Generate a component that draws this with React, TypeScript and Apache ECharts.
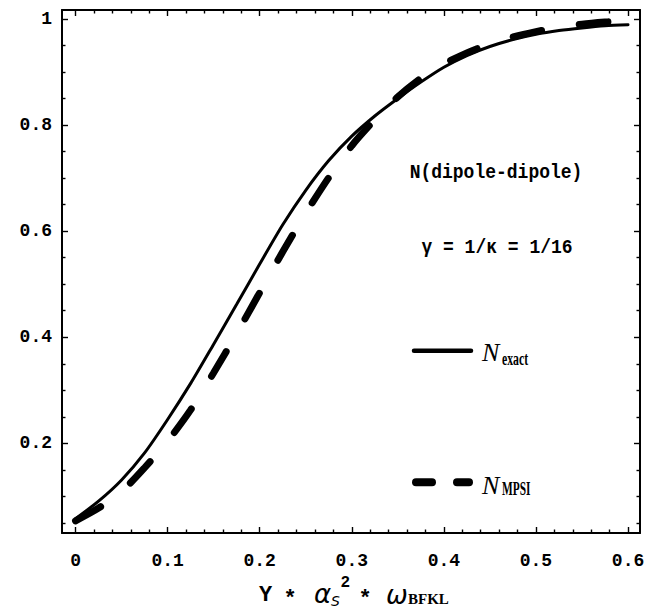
import React, { useEffect, useRef } from "react";
import * as echarts from "echarts";

// ---- data ----
const xValues = [
  0, 0.025, 0.05, 0.075, 0.1, 0.125, 0.15, 0.175, 0.2, 0.225, 0.25, 0.275, 0.3,
  0.325, 0.35, 0.375, 0.4, 0.425, 0.45, 0.475, 0.5, 0.525, 0.55, 0.575, 0.6,
];
const exactValues = [
  0.058, 0.091, 0.131, 0.182, 0.245, 0.313, 0.387, 0.462, 0.538, 0.612, 0.677,
  0.733, 0.779, 0.817, 0.85, 0.881, 0.909, 0.931, 0.948, 0.961, 0.971, 0.978,
  0.983, 0.987, 0.989,
];
const mpsiValues = [
  0.054, 0.078, 0.109, 0.154, 0.204, 0.263, 0.333, 0.407, 0.484, 0.561, 0.634,
  0.701, 0.761, 0.81, 0.853, 0.888, 0.915, 0.936, 0.953, 0.966, 0.976, 0.984,
  0.99, 0.994, 0.997,
];

const xMajorTicks = [0, 0.1, 0.2, 0.3, 0.4, 0.5, 0.6];
const xMinorTicks = [
  0.02, 0.04, 0.06, 0.08, 0.12, 0.14, 0.16, 0.18, 0.22, 0.24, 0.26, 0.28, 0.32,
  0.34, 0.36, 0.38, 0.42, 0.44, 0.46, 0.48, 0.52, 0.54, 0.56, 0.58,
];
const yMajorTicks = [0.2, 0.4, 0.6, 0.8, 1];
const yMinorTicks = [
  0.05, 0.1, 0.15, 0.25, 0.3, 0.35, 0.45, 0.5, 0.55, 0.65, 0.7, 0.75, 0.85, 0.9,
  0.95,
];

const X_MIN = -0.0147;
const X_MAX = 0.613;
const Y_MIN = 0.031;
const Y_MAX = 1.0168;

const MONO = "'Liberation Mono', monospace";
const SERIF = "'Liberation Serif', serif";
const GREEK = "'DejaVu Sans', sans-serif";

function makeAxis(
  dim: "x" | "y",
  position: string,
  ticks: number[],
  len: number,
  withLine: boolean,
  withLabels: boolean
) {
  return {
    type: "value",
    min: dim === "x" ? X_MIN : Y_MIN,
    max: dim === "x" ? X_MAX : Y_MAX,
    position,
    axisLine: {
      show: withLine,
      onZero: false,
      lineStyle: { color: "#000", width: 2 },
    },
    axisTick: {
      show: true,
      inside: true,
      length: len,
      customValues: ticks,
      lineStyle: { color: "#000", width: 1.4 },
    },
    axisLabel: withLabels
      ? {
          show: true,
          customValues: ticks,
          formatter: (v: number) => String(v),
          margin: dim === "x" ? 19 : 10,
          color: "#000",
          fontFamily: MONO,
          fontWeight: "bold",
          fontSize: 18,
        }
      : { show: false },
    splitLine: { show: false },
    minorTick: { show: false },
  };
}

function txt(
  x: number,
  y: number,
  text: string,
  family: string,
  size: number,
  opts: any = {}
) {
  return {
    type: "text",
    x,
    y,
    scaleX: opts.scaleX ?? 1,
    scaleY: opts.scaleY ?? 1,
    style: {
      text,
      fontFamily: family,
      fontWeight: opts.weight ?? "normal",
      fontStyle: opts.style ?? "normal",
      fontSize: size,
      fill: "#000",
      align: opts.align ?? "center",
      verticalAlign: "middle",
    },
  };
}

export default function App() {
  const ref = useRef<HTMLDivElement>(null);

  useEffect(() => {
    if (!ref.current) return;
    const chart = echarts.init(ref.current, null, { renderer: "svg" });
    const exactData = xValues.map((x, i) => [x, exactValues[i]]);
    const mpsiData = xValues.map((x, i) => [x, mpsiValues[i]]);

    const option: any = {
      animation: false,
      backgroundColor: "#fff",
      grid: { left: 62, right: 8, top: 10, bottom: 83, containLabel: false },
      xAxis: [
        makeAxis("x", "bottom", xMajorTicks, 6, true, true),
        makeAxis("x", "bottom", xMinorTicks, 3.5, false, false),
        makeAxis("x", "top", xMajorTicks, 6, true, false),
        makeAxis("x", "top", xMinorTicks, 3.5, false, false),
      ],
      yAxis: [
        makeAxis("y", "left", yMajorTicks, 6, true, true),
        makeAxis("y", "left", yMinorTicks, 3.5, false, false),
        makeAxis("y", "right", yMajorTicks, 6, true, false),
        makeAxis("y", "right", yMinorTicks, 3.5, false, false),
      ],
      series: [
        {
          name: "N exact",
          type: "line",
          xAxisIndex: 0,
          yAxisIndex: 0,
          data: exactData,
          smooth: 0.25,
          showSymbol: false,
          lineStyle: { color: "#000", width: 3, cap: "round" },
          z: 2,
        },
        {
          name: "N MPSI",
          type: "line",
          xAxisIndex: 0,
          yAxisIndex: 0,
          data: mpsiData,
          smooth: 0.25,
          showSymbol: false,
          lineStyle: {
            color: "#000",
            width: 7,
            type: [29, 38],
            cap: "round",
          },
          z: 3,
        },
      ],
      graphic: [
        txt(496, 173, "N(dipole-dipole)", MONO, 18, {
          weight: "bold",
          scaleY: 1.1,
        }),
        txt(497, 248, "γ = 1/κ = 1/16", MONO, 18, {
          weight: "bold",
          scaleY: 1.1,
        }),
        // legend: exact
        {
          type: "line",
          shape: { x1: 414, y1: 350.7, x2: 471, y2: 350.7 },
          style: { stroke: "#000", lineWidth: 4.5, lineCap: "round" },
        },
        txt(482, 352, "N", SERIF, 26, { style: "italic", align: "left" }),
        txt(502, 358, "exact", SERIF, 19, {
          weight: "bold",
          align: "left",
          scaleX: 0.62,
        }),
        // legend: MPSI
        {
          type: "line",
          shape: { x1: 416, y1: 482.3, x2: 432, y2: 482.3 },
          style: { stroke: "#000", lineWidth: 8, lineCap: "round" },
        },
        {
          type: "line",
          shape: { x1: 457, y1: 482.3, x2: 469, y2: 482.3 },
          style: { stroke: "#000", lineWidth: 8, lineCap: "round" },
        },
        txt(482, 485, "N", SERIF, 26, { style: "italic", align: "left" }),
        txt(502, 488, "MPSI", SERIF, 19, {
          weight: "bold",
          align: "left",
          scaleX: 0.6,
        }),
        // x axis title: Y * alpha_S^2 * omega_BFKL
        txt(265.5, 595, "Y", MONO, 22, { weight: "bold" }),
        txt(290, 599, "*", MONO, 22, { weight: "bold" }),
        txt(322.5, 593.5, "α", GREEK, 26, { style: "italic" }),
        txt(335.5, 601, "S", GREEK, 14, { style: "italic" }),
        txt(345.4, 583, "2", MONO, 16, { weight: "bold" }),
        txt(365, 599, "*", MONO, 22, { weight: "bold" }),
        txt(397, 595, "ω", GREEK, 26, { style: "italic" }),
        txt(408, 599, "BFKL", SERIF, 15, { weight: "bold", align: "left" }),
      ],
    };

    chart.setOption(option);
    return () => {
      chart.dispose();
    };
  }, []);

  return (
    <div
      ref={ref}
      style={{
        position: "fixed",
        left: 0,
        top: 0,
        width: 648,
        height: 616,
        background: "#fff",
      }}
    />
  );
}
